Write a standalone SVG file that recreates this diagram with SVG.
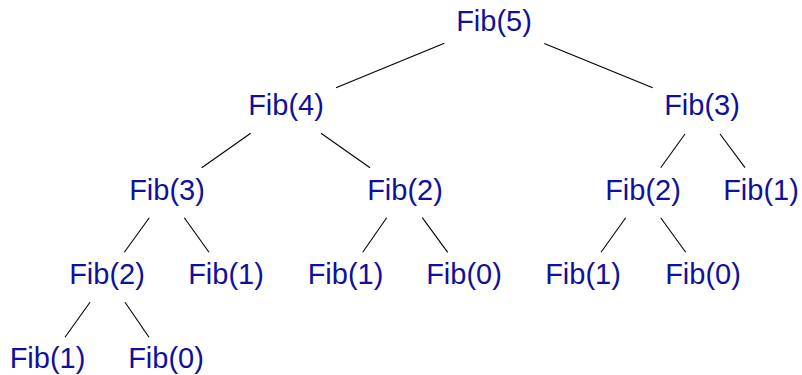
<svg xmlns="http://www.w3.org/2000/svg" width="802" height="375" viewBox="0 0 802 375">
<style>
.n text{font-family:"Liberation Sans",Arial,Helvetica,sans-serif;font-size:29px;fill:#10109a;text-anchor:middle}
.e line{stroke:#000;stroke-width:1.1}
</style>
<rect width="802" height="375" fill="#fff"/>
<g class="e" id="connectors">
<line x1="444.3" y1="43.3" x2="336" y2="87.7"/>
<line x1="544.3" y1="43.5" x2="652.7" y2="87.7"/>
<line x1="250.7" y1="133.3" x2="201.7" y2="167.7"/>
<line x1="321" y1="133.3" x2="370" y2="167.7"/>
<line x1="685" y1="134" x2="660.7" y2="167.7"/>
<line x1="720" y1="134" x2="745" y2="167.7"/>
<line x1="149.3" y1="217.7" x2="124.3" y2="252.3"/>
<line x1="184.3" y1="217.7" x2="209" y2="252.3"/>
<line x1="386.7" y1="217.7" x2="362.7" y2="252.3"/>
<line x1="422.3" y1="217.7" x2="447.7" y2="252.3"/>
<line x1="625.7" y1="217.7" x2="601" y2="252.3"/>
<line x1="660.7" y1="217.7" x2="685.7" y2="252.3"/>
<line x1="90" y1="302.3" x2="65" y2="337.3"/>
<line x1="125" y1="302.3" x2="149" y2="337.3"/>
</g>
<g class="n" id="fib5"><text x="494" y="31">Fib(5)</text></g>
<g class="n" id="fib4"><text x="286" y="115">Fib(4)</text></g>
<g class="n" id="fib3r"><text x="702" y="115">Fib(3)</text></g>
<g class="n" id="fib3l"><text x="167" y="199.5">Fib(3)</text></g>
<g class="n" id="fib2m"><text x="405" y="199.5">Fib(2)</text></g>
<g class="n" id="fib2r"><text x="643" y="199.5">Fib(2)</text></g>
<g class="n" id="fib1r2"><text x="761" y="199.5">Fib(1)</text></g>
<g class="n" id="fib2l"><text x="107" y="284">Fib(2)</text></g>
<g class="n" id="fib1a"><text x="226" y="284">Fib(1)</text></g>
<g class="n" id="fib1b"><text x="345.5" y="284">Fib(1)</text></g>
<g class="n" id="fib0a"><text x="464" y="284">Fib(0)</text></g>
<g class="n" id="fib1c"><text x="583" y="284">Fib(1)</text></g>
<g class="n" id="fib0b"><text x="703" y="284">Fib(0)</text></g>
<g class="n" id="fib1d"><text x="47.5" y="368">Fib(1)</text></g>
<g class="n" id="fib0c"><text x="166" y="368">Fib(0)</text></g>
</svg>
